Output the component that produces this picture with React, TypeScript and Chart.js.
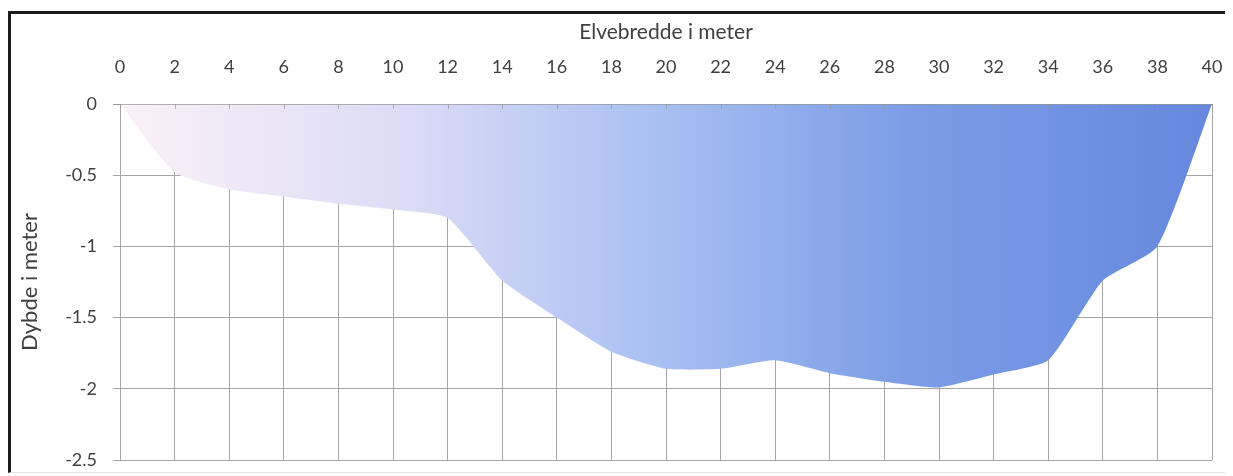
import React, { useEffect, useRef } from "react";
import { Chart, registerables } from "chart.js";

Chart.register(...registerables);

const widths = [0, 2, 4, 6, 8, 10, 12, 14, 16, 18, 20, 22, 24, 26, 28, 30, 32, 34, 36, 38, 40];
const depths = [0, -0.48, -0.6, -0.65, -0.7, -0.74, -0.8, -1.24, -1.5, -1.74, -1.86, -1.86, -1.8, -1.89, -1.95, -1.99, -1.9, -1.8, -1.24, -1.0, 0];
const xTitle = "Elvebredde i meter";
const yTitle = "Dybde i meter";

const W = 1225;
const H = 468;
const FONT = "Lato, 'Open Sans', sans-serif";
const TEXT = "#3f3f3f";
const GRID = "#a6a6a6";

const topLine = {
  id: "topLine",
  afterDatasetsDraw(chart: any) {
    const { ctx, chartArea } = chart;
    const xs = chart.scales.x;
    ctx.save();
    ctx.strokeStyle = "rgba(150,150,150,0.7)";
    ctx.lineWidth = 1;
    ctx.beginPath();
    ctx.moveTo(chartArea.left - 7, chartArea.top + 0.5);
    ctx.lineTo(chartArea.right, chartArea.top + 0.5);
    for (const w of widths) {
      const px = Math.round(xs.getPixelForValue(w)) + 0.5;
      ctx.moveTo(px, chartArea.top);
      ctx.lineTo(px, chartArea.top + 5);
    }
    ctx.stroke();
    ctx.restore();
  },
};

export default function App() {
  const ref = useRef<HTMLCanvasElement>(null);
  useEffect(() => {
    if (!ref.current) return;
    const chart = new Chart(ref.current, {
      type: "line",
      data: {
        datasets: [
          {
            data: widths.map((w, i) => ({ x: w, y: depths[i] })),
            fill: "origin",
            borderWidth: 0,
            borderColor: "rgba(0,0,0,0)",
            pointRadius: 0,
            tension: 0.18,
            backgroundColor: (c: any) => {
              const area = c.chart.chartArea;
              if (!area) return "#a9c0f2";
              const g = c.chart.ctx.createLinearGradient(area.left, 0, area.right, 0);
              g.addColorStop(0, "#fbf1f7");
              g.addColorStop(0.26, "#dcdcf6");
              g.addColorStop(0.49, "#a9c0f2");
              g.addColorStop(0.72, "#7c9de6");
              g.addColorStop(1, "#6588de");
              return g;
            },
          },
        ],
      },
      options: {
        animation: false,
        responsive: false,
        layout: { padding: { top: 0, left: 0, right: 21, bottom: 16 } },
        plugins: { legend: { display: false }, tooltip: { enabled: false } },
        scales: {
          x: {
            type: "linear",
            position: "top",
            min: 0,
            max: 40,
            afterFit: (s: any) => {
              s.height = 96;
              s.paddingLeft = 0;
              s.paddingRight = 0;
            },
            ticks: {
              stepSize: 2,
              padding: 26,
              color: TEXT,
              font: { family: FONT, size: 18 },
              callback: (v: any) => String(v),
              maxRotation: 0,
              autoSkip: false,
            },
            grid: { color: GRID, lineWidth: 1, drawTicks: false },
            border: { color: GRID },
            title: {
              display: true,
              text: xTitle,
              color: TEXT,
              font: { family: FONT, size: 21 },
              padding: { top: 12, bottom: 0 },
            },
          },
          y: {
            type: "linear",
            min: -2.5,
            max: 0,
            afterFit: (s: any) => {
              s.width = 112;
              s.paddingTop = 0;
              s.paddingBottom = 0;
            },
            ticks: {
              stepSize: 0.5,
              padding: 16,
              color: TEXT,
              font: { family: FONT, size: 18 },
              callback: (v: any) => String(v),
            },
            grid: { color: GRID, lineWidth: 1, drawTicks: true, tickLength: 7 },
            border: { color: GRID },
            title: {
              display: true,
              text: yTitle,
              color: TEXT,
              font: { family: FONT, size: 22 },
              padding: { top: 9, bottom: 0 },
            },
          },
        },
      },
      plugins: [topLine],
    });
    return () => chart.destroy();
  }, []);

  return (
    <div style={{ position: "relative", width: W, height: H, background: "#fff" }}>
      <div
        style={{
          position: "absolute",
          left: 0,
          top: 3,
          width: 1218,
          height: 458,
          borderTop: "3px solid #1c1c1c",
          borderLeft: "3px solid #1c1c1c",
          borderRight: "1px solid #d8d8d8",
          borderBottom: "1px solid #e6e6e6",
        }}
      />
      <canvas
        ref={ref}
        width={W}
        height={H}
        style={{ position: "absolute", left: 0, top: 0, width: W, height: H }}
      />
    </div>
  );
}
